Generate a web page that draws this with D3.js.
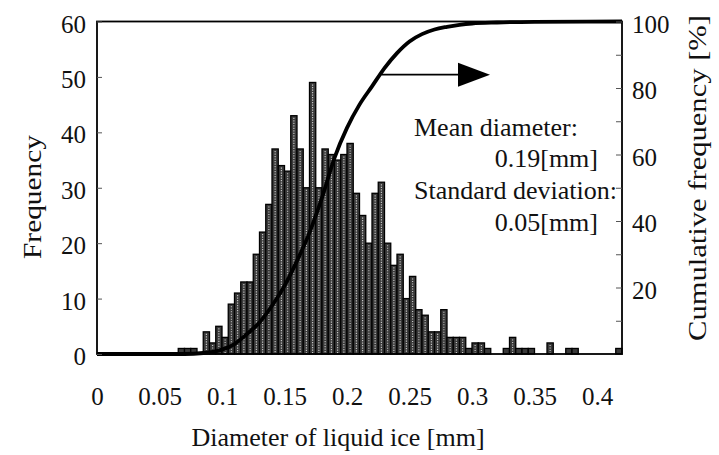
<!DOCTYPE html>
<html><head><meta charset="utf-8">
<script src="https://cdn.jsdelivr.net/npm/d3@7"></script>
<style>
body{margin:0;background:#fff}
svg{display:block}
text{font-family:"Liberation Serif","Times New Roman",serif;fill:#111}
</style>
</head><body>
<svg id="c" width="719" height="455"></svg>
<script>
// ---- data ----
const binWidth = 0.005;
const binStart = [0,0.005,0.01,0.015,0.02,0.025,0.03,0.035,0.04,0.045,0.05,0.055,0.06,0.065,0.07,0.075,0.08,0.085,0.09,0.095,
0.1,0.105,0.11,0.115,0.12,0.125,0.13,0.135,0.14,0.145,0.15,0.155,0.16,0.165,0.17,0.175,0.18,0.185,0.19,0.195,
0.2,0.205,0.21,0.215,0.22,0.225,0.23,0.235,0.24,0.245,0.25,0.255,0.26,0.265,0.27,0.275,0.28,0.285,0.29,0.295,
0.3,0.305,0.31,0.315,0.32,0.325,0.33,0.335,0.34,0.345,0.35,0.355,0.36,0.365,0.37,0.375,0.38,0.385,0.39,0.395,
0.4,0.405,0.41,0.415];
const frequency = [0,0,0,0,0,0,0,0,0,0,0,0,0,1,1,1,0,4,2,5,
3,9,11,13,13,18,22,27,37,34,33,43,37,30,49,30,37,36,35,36,
38,29,25,20,29,31,20,16,18,10,14,8,7,4,4,8,3,3,3,1,
2,2,1,0,0,1,3,1,1,1,0,0,2,0,0,1,1,0,0,0,
0,0,0,1];
const cumDiameter = [0,0.07,0.085,0.095,0.10,0.11,0.12,0.13,0.14,0.15,0.16,0.17,0.18,0.19,0.20,0.21,0.22,0.23,0.24,0.25,0.26,0.27,0.28,0.29,0.30,0.32,0.35,0.42];
const cumPercent  = [0,0,0.3,0.8,1.3,3,6,9.5,14.5,20.5,28,36.5,47,59,68,75,80.5,86,90.5,94,96.2,97.6,98.4,99,99.4,99.7,99.9,100];
const xTickValues = [0,0.05,0.1,0.15,0.2,0.25,0.3,0.35,0.4];
const xTickLabels = ["0","0.05","0.1","0.15","0.2","0.25","0.3","0.35","0.4"];
const leftTicks = [0,10,20,30,40,50,60];
const rightTicks = [10,20,30,40,50,60,70,80,90];
const rightLabelled = [20,40,60,80,100];
const noteLines = ["Mean diameter:","0.19[mm]","Standard deviation:","0.05[mm]"];

// ---- layout ----
const M = {l:97, r:622, t:21.5, b:354};
const x  = d3.scaleLinear().domain([0,0.42]).range([M.l,M.r]);
const yL = d3.scaleLinear().domain([0,60]).range([M.b,M.t]);
const yR = d3.scaleLinear().domain([0,100]).range([M.b,M.t]);
const svg = d3.select("#c");
svg.append("rect").attr("width",719).attr("height",455).attr("fill","#fff");

// bars
const bars = binStart.map((s,i)=>({s, n:frequency[i]})).filter(d=>d.n>0);
const gb = svg.append("g");
gb.selectAll("rect").data(bars).join("rect")
  .attr("x",d=>x(d.s)).attr("width",d=>x(d.s+binWidth)-x(d.s))
  .attr("y",d=>yL(d.n)).attr("height",d=>yL(0)-yL(d.n))
  .attr("fill","#3a3a3a").attr("stroke","#000").attr("stroke-width",1.3);
gb.selectAll("line").data(bars.filter(d=>d.n>=2)).join("line")
  .attr("x1",d=>x(d.s+binWidth/2)).attr("x2",d=>x(d.s+binWidth/2))
  .attr("y1",d=>yL(d.n)+2).attr("y2",yL(0)-1)
  .attr("stroke","#d0d0d0").attr("stroke-width",1.1).attr("stroke-dasharray","1.2,1.3");

// cumulative curve
const line = d3.line().x((d,i)=>x(cumDiameter[i])).y(d=>yR(d)).curve(d3.curveMonotoneX);
svg.append("path").datum(cumPercent).attr("d",line)
  .attr("fill","none").attr("stroke","#000").attr("stroke-width",3.8).attr("stroke-linejoin","round");

// frame
svg.append("rect").attr("x",M.l).attr("y",M.t).attr("width",M.r-M.l).attr("height",M.b-M.t)
  .attr("fill","none").attr("stroke","#000").attr("stroke-width",1.8);

// axes
const fs = 25;
const ax = svg.append("g").attr("transform",`translate(${M.l},0)`)
  .call(d3.axisLeft(yL).tickValues(leftTicks).tickSize(-5).tickPadding(11));
const ar = svg.append("g").attr("transform",`translate(${M.r},0)`)
  .call(d3.axisRight(yR).tickValues(rightTicks.concat([100])).tickSize(-6).tickPadding(10)
    .tickFormat(d=>rightLabelled.includes(d)?d:""));
const ab = svg.append("g").attr("transform",`translate(0,${M.b})`)
  .call(d3.axisBottom(x).tickValues(xTickValues).tickSize(0).tickPadding(33)
    .tickFormat((d,i)=>xTickLabels[i]));
[ax,ar,ab].forEach(a=>{
  a.select(".domain").remove();
  a.selectAll(".tick line").attr("stroke","#555").attr("stroke-width",1);
  a.selectAll("text").attr("font-size",fs).attr("font-family","Liberation Serif").attr("fill","#111");
});
ax.selectAll("text").attr("dy","0.42em");
ar.selectAll("text").attr("dy","0.42em");
ab.selectAll("text").attr("dy","0.71em");

// axis titles
svg.append("text").attr("transform","translate(41,197) rotate(-90)").attr("text-anchor","middle")
  .attr("font-size",26).attr("textLength",124).attr("lengthAdjust","spacingAndGlyphs").text("Frequency");
svg.append("text").attr("transform","translate(706,178) rotate(-90)").attr("text-anchor","middle")
  .attr("font-size",26).attr("textLength",326).attr("lengthAdjust","spacingAndGlyphs").text("Cumulative frequency [%]");
svg.append("text").attr("x",338).attr("y",446).attr("text-anchor","middle")
  .attr("font-size",26).text("Diameter of liquid ice [mm]");

// arrow
const arrowFrom = 0.2275, arrowTip = 0.3144, arrowAt = 84;
const ay = yR(arrowAt), tipX = x(arrowTip);
svg.append("line").attr("x1",x(arrowFrom)).attr("x2",tipX-30).attr("y1",ay).attr("y2",ay)
  .attr("stroke","#000").attr("stroke-width",1.8);
svg.append("path").attr("d",`M${tipX},${ay} L${tipX-32},${ay-12} L${tipX-32},${ay+12} Z`).attr("fill","#000");

// notes
const noteX = [414,598,414,598], noteY=[136,167,199,231], anchors=["start","end","start","end"];
noteLines.forEach((t,i)=>{
  svg.append("text").attr("x",noteX[i]).attr("y",noteY[i]).attr("text-anchor",anchors[i])
    .attr("font-size",26).text(t);
});
</script>
</body></html>
